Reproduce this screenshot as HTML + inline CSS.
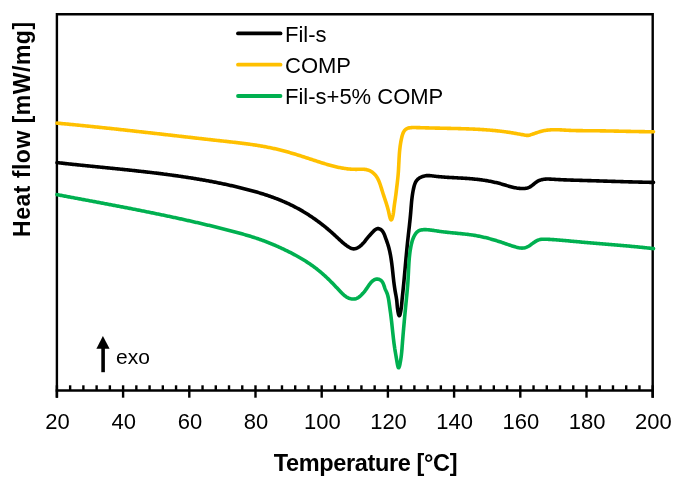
<!DOCTYPE html>
<html><head><meta charset="utf-8"><style>
html,body{margin:0;padding:0;background:#fff;}
body{width:680px;height:487px;overflow:hidden;}
svg{display:block;will-change:transform;}
text{font-family:"Liberation Sans", sans-serif;}
</style></head><body>
<svg width="680" height="487" viewBox="0 0 680 487">
<rect width="680" height="487" fill="#fff"/>
<g stroke="#000" stroke-width="2.4" fill="none" stroke-linecap="butt">
<path d="M56.90,397.70 V14.30 H652.70 V397.70"/>
<line x1="55.70" y1="390.50" x2="653.90" y2="390.50"/>
<line x1="56.90" y1="385.30" x2="56.90" y2="397.70"/>
<line x1="70.14" y1="385.30" x2="70.14" y2="390.50"/>
<line x1="83.38" y1="385.30" x2="83.38" y2="390.50"/>
<line x1="96.62" y1="385.30" x2="96.62" y2="390.50"/>
<line x1="109.86" y1="385.30" x2="109.86" y2="390.50"/>
<line x1="123.10" y1="385.30" x2="123.10" y2="397.70"/>
<line x1="136.34" y1="385.30" x2="136.34" y2="390.50"/>
<line x1="149.58" y1="385.30" x2="149.58" y2="390.50"/>
<line x1="162.82" y1="385.30" x2="162.82" y2="390.50"/>
<line x1="176.06" y1="385.30" x2="176.06" y2="390.50"/>
<line x1="189.30" y1="385.30" x2="189.30" y2="397.70"/>
<line x1="202.54" y1="385.30" x2="202.54" y2="390.50"/>
<line x1="215.78" y1="385.30" x2="215.78" y2="390.50"/>
<line x1="229.02" y1="385.30" x2="229.02" y2="390.50"/>
<line x1="242.26" y1="385.30" x2="242.26" y2="390.50"/>
<line x1="255.50" y1="385.30" x2="255.50" y2="397.70"/>
<line x1="268.74" y1="385.30" x2="268.74" y2="390.50"/>
<line x1="281.98" y1="385.30" x2="281.98" y2="390.50"/>
<line x1="295.22" y1="385.30" x2="295.22" y2="390.50"/>
<line x1="308.46" y1="385.30" x2="308.46" y2="390.50"/>
<line x1="321.70" y1="385.30" x2="321.70" y2="397.70"/>
<line x1="334.94" y1="385.30" x2="334.94" y2="390.50"/>
<line x1="348.18" y1="385.30" x2="348.18" y2="390.50"/>
<line x1="361.42" y1="385.30" x2="361.42" y2="390.50"/>
<line x1="374.66" y1="385.30" x2="374.66" y2="390.50"/>
<line x1="387.90" y1="385.30" x2="387.90" y2="397.70"/>
<line x1="401.14" y1="385.30" x2="401.14" y2="390.50"/>
<line x1="414.38" y1="385.30" x2="414.38" y2="390.50"/>
<line x1="427.62" y1="385.30" x2="427.62" y2="390.50"/>
<line x1="440.86" y1="385.30" x2="440.86" y2="390.50"/>
<line x1="454.10" y1="385.30" x2="454.10" y2="397.70"/>
<line x1="467.34" y1="385.30" x2="467.34" y2="390.50"/>
<line x1="480.58" y1="385.30" x2="480.58" y2="390.50"/>
<line x1="493.82" y1="385.30" x2="493.82" y2="390.50"/>
<line x1="507.06" y1="385.30" x2="507.06" y2="390.50"/>
<line x1="520.30" y1="385.30" x2="520.30" y2="397.70"/>
<line x1="533.54" y1="385.30" x2="533.54" y2="390.50"/>
<line x1="546.78" y1="385.30" x2="546.78" y2="390.50"/>
<line x1="560.02" y1="385.30" x2="560.02" y2="390.50"/>
<line x1="573.26" y1="385.30" x2="573.26" y2="390.50"/>
<line x1="586.50" y1="385.30" x2="586.50" y2="397.70"/>
<line x1="599.74" y1="385.30" x2="599.74" y2="390.50"/>
<line x1="612.98" y1="385.30" x2="612.98" y2="390.50"/>
<line x1="626.22" y1="385.30" x2="626.22" y2="390.50"/>
<line x1="639.46" y1="385.30" x2="639.46" y2="390.50"/>
<line x1="652.70" y1="385.30" x2="652.70" y2="397.70"/>
</g>
<g fill="none" stroke-width="3.6" stroke-linejoin="round" stroke-linecap="round">
<path stroke="#FFC000" d="M57.00,123.14 L57.99,123.23 L58.99,123.32 L59.99,123.41 L60.98,123.50 L61.98,123.60 L62.98,123.69 L63.97,123.78 L64.97,123.88 L65.97,123.97 L66.96,124.06 L67.96,124.16 L68.95,124.25 L69.95,124.35 L70.95,124.45 L71.94,124.54 L72.94,124.64 L73.93,124.73 L74.93,124.83 L75.93,124.93 L76.92,125.03 L77.92,125.13 L78.91,125.22 L79.91,125.32 L80.90,125.42 L81.90,125.52 L82.89,125.62 L83.89,125.72 L84.89,125.82 L85.88,125.92 L86.88,126.02 L87.87,126.12 L88.87,126.22 L89.86,126.32 L90.86,126.43 L91.85,126.53 L92.84,126.63 L93.84,126.73 L94.83,126.84 L95.83,126.94 L96.82,127.04 L97.82,127.15 L98.81,127.25 L99.81,127.35 L100.80,127.46 L101.80,127.56 L102.79,127.67 L103.78,127.77 L104.78,127.88 L105.77,127.98 L106.77,128.09 L107.76,128.19 L108.76,128.30 L109.75,128.41 L110.74,128.51 L111.74,128.62 L112.73,128.73 L113.73,128.83 L114.72,128.94 L115.71,129.05 L116.71,129.16 L117.70,129.26 L118.69,129.37 L119.69,129.48 L120.68,129.59 L121.68,129.70 L122.67,129.81 L123.66,129.91 L124.66,130.02 L125.65,130.13 L126.64,130.24 L127.64,130.35 L128.63,130.46 L129.62,130.57 L130.62,130.68 L131.61,130.79 L132.61,130.90 L133.60,131.01 L134.59,131.12 L135.59,131.23 L136.58,131.34 L137.57,131.45 L138.57,131.56 L139.56,131.68 L140.55,131.79 L141.55,131.90 L142.54,132.01 L143.53,132.12 L144.53,132.23 L145.52,132.34 L146.51,132.46 L147.51,132.57 L148.50,132.68 L149.49,132.79 L150.49,132.90 L151.48,133.02 L152.47,133.13 L153.47,133.24 L154.46,133.35 L155.45,133.46 L156.45,133.58 L157.44,133.69 L158.43,133.80 L159.43,133.91 L160.42,134.03 L161.41,134.14 L162.41,134.25 L163.40,134.37 L164.39,134.48 L165.39,134.59 L166.38,134.70 L167.37,134.82 L168.37,134.93 L169.36,135.04 L170.35,135.16 L171.35,135.27 L172.34,135.38 L173.33,135.49 L174.33,135.61 L175.32,135.72 L176.31,135.83 L177.31,135.95 L178.30,136.06 L179.29,136.17 L180.29,136.28 L181.28,136.40 L182.28,136.51 L183.27,136.62 L184.26,136.74 L185.26,136.85 L186.25,136.96 L187.24,137.07 L188.24,137.19 L189.23,137.30 L190.23,137.41 L191.22,137.52 L192.21,137.64 L193.21,137.75 L194.20,137.86 L195.19,137.97 L196.19,138.09 L197.18,138.20 L198.18,138.31 L199.17,138.42 L200.17,138.53 L201.16,138.65 L202.15,138.76 L203.15,138.87 L204.14,138.98 L205.14,139.09 L206.13,139.20 L207.13,139.31 L208.12,139.42 L209.11,139.54 L210.11,139.65 L211.10,139.76 L212.10,139.87 L213.09,139.98 L214.09,140.09 L215.08,140.20 L216.08,140.31 L217.07,140.42 L218.07,140.53 L219.06,140.64 L220.06,140.75 L221.05,140.86 L222.05,140.97 L223.04,141.08 L224.04,141.18 L225.03,141.29 L226.03,141.40 L227.02,141.51 L228.02,141.62 L229.01,141.73 L230.01,141.84 L231.00,141.96 L232.00,142.07 L232.99,142.18 L233.99,142.29 L234.98,142.41 L235.98,142.52 L236.97,142.64 L237.97,142.76 L238.96,142.88 L239.95,143.00 L240.95,143.12 L241.94,143.24 L242.93,143.36 L243.92,143.49 L244.91,143.62 L245.91,143.75 L246.90,143.88 L247.89,144.01 L248.88,144.14 L249.87,144.28 L250.86,144.42 L251.85,144.56 L252.84,144.71 L253.82,144.85 L254.81,145.00 L255.80,145.15 L256.78,145.31 L257.77,145.46 L258.76,145.62 L259.74,145.78 L260.73,145.95 L261.71,146.12 L262.69,146.29 L263.67,146.46 L264.66,146.64 L265.64,146.82 L266.62,147.01 L267.60,147.19 L268.58,147.39 L269.55,147.58 L270.53,147.78 L271.51,147.98 L272.48,148.19 L273.46,148.40 L274.43,148.62 L275.40,148.83 L276.38,149.06 L277.35,149.29 L278.32,149.52 L279.29,149.75 L280.26,149.99 L281.22,150.24 L282.19,150.49 L283.16,150.74 L284.12,151.00 L285.09,151.26 L286.05,151.53 L287.01,151.79 L287.98,152.07 L288.94,152.34 L289.90,152.62 L290.86,152.90 L291.82,153.18 L292.78,153.47 L293.74,153.76 L294.69,154.05 L295.65,154.34 L296.61,154.64 L297.57,154.94 L298.52,155.24 L299.48,155.54 L300.43,155.84 L301.39,156.15 L302.34,156.45 L303.30,156.76 L304.25,157.07 L305.21,157.38 L306.16,157.69 L307.11,158.00 L308.07,158.31 L309.02,158.62 L309.98,158.94 L310.93,159.25 L311.88,159.56 L312.84,159.87 L313.79,160.19 L314.74,160.50 L315.70,160.81 L316.65,161.12 L317.60,161.43 L318.56,161.74 L319.51,162.05 L320.46,162.36 L321.42,162.66 L322.37,162.96 L323.33,163.26 L324.29,163.56 L325.24,163.85 L326.20,164.14 L327.16,164.43 L328.12,164.71 L329.08,164.98 L330.04,165.25 L331.00,165.52 L331.97,165.78 L332.93,166.03 L333.90,166.27 L334.86,166.51 L335.83,166.75 L336.80,166.97 L337.77,167.19 L338.75,167.40 L339.72,167.59 L340.70,167.79 L341.68,167.97 L342.66,168.14 L343.64,168.30 L344.62,168.45 L345.61,168.59 L346.60,168.72 L347.59,168.84 L348.58,168.95 L349.57,169.04 L350.57,169.12 L351.57,169.19 L352.57,169.25 L353.58,169.29 L354.58,169.32 L355.59,169.33 L356.61,169.33 L357.62,169.32 L358.64,169.29 L359.66,169.26 L360.67,169.24 L361.69,169.22 L362.69,169.23 L363.69,169.27 L364.69,169.34 L365.66,169.46 L366.63,169.64 L367.58,169.88 L368.52,170.18 L369.43,170.55 L370.33,170.99 L371.19,171.49 L372.03,172.04 L372.83,172.64 L373.59,173.29 L374.31,173.97 L374.99,174.69 L375.63,175.44 L376.22,176.23 L376.77,177.04 L377.29,177.87 L377.77,178.73 L378.22,179.61 L378.65,180.51 L379.05,181.42 L379.42,182.36 L379.78,183.30 L380.12,184.26 L380.45,185.22 L380.76,186.19 L381.07,187.17 L381.37,188.15 L381.66,189.13 L381.96,190.11 L382.26,191.08 L382.56,192.06 L382.87,193.02 L383.18,193.98 L383.50,194.94 L383.81,195.89 L384.13,196.84 L384.44,197.78 L384.76,198.72 L385.07,199.65 L385.38,200.58 L385.68,201.51 L385.99,202.44 L386.28,203.36 L386.58,204.27 L386.86,205.19 L387.14,206.10 L387.41,207.02 L387.67,207.95 L387.93,208.90 L388.18,209.88 L388.43,210.91 L388.67,211.97 L388.91,213.09 L389.15,214.22 L389.41,215.36 L389.68,216.49 L389.99,217.60 L390.32,218.63 L390.69,219.47 L391.06,219.92 L391.45,219.84 L391.83,219.26 L392.20,218.32 L392.53,217.18 L392.82,216.01 L393.07,214.87 L393.27,213.76 L393.44,212.69 L393.58,211.65 L393.71,210.62 L393.82,209.62 L393.93,208.63 L394.03,207.64 L394.15,206.66 L394.27,205.68 L394.41,204.70 L394.55,203.72 L394.70,202.74 L394.85,201.76 L395.00,200.78 L395.15,199.80 L395.30,198.81 L395.44,197.83 L395.57,196.85 L395.70,195.87 L395.83,194.89 L395.95,193.91 L396.07,192.92 L396.19,191.93 L396.31,190.94 L396.43,189.95 L396.55,188.96 L396.67,187.96 L396.79,186.95 L396.91,185.95 L397.03,184.95 L397.16,183.94 L397.28,182.93 L397.39,181.92 L397.51,180.91 L397.62,179.91 L397.73,178.90 L397.84,177.89 L397.94,176.89 L398.03,175.88 L398.12,174.88 L398.21,173.88 L398.28,172.88 L398.36,171.89 L398.42,170.90 L398.49,169.91 L398.55,168.92 L398.60,167.93 L398.65,166.95 L398.70,165.97 L398.75,164.98 L398.80,164.00 L398.85,163.02 L398.90,162.04 L398.95,161.06 L398.99,160.08 L399.05,159.10 L399.10,158.12 L399.16,157.13 L399.22,156.15 L399.28,155.17 L399.35,154.18 L399.43,153.19 L399.51,152.20 L399.60,151.21 L399.69,150.22 L399.79,149.22 L399.91,148.22 L400.03,147.22 L400.15,146.21 L400.29,145.21 L400.44,144.19 L400.60,143.18 L400.78,142.16 L400.96,141.13 L401.16,140.10 L401.37,139.07 L401.60,138.03 L401.84,136.99 L402.11,135.96 L402.40,134.95 L402.73,133.97 L403.11,133.03 L403.53,132.13 L404.01,131.30 L404.55,130.54 L405.16,129.86 L405.84,129.26 L406.61,128.77 L407.45,128.38 L408.36,128.08 L409.33,127.86 L410.34,127.71 L411.39,127.61 L412.46,127.56 L413.54,127.54 L414.62,127.54 L415.69,127.56 L416.74,127.58 L417.78,127.61 L418.80,127.63 L419.80,127.66 L420.79,127.68 L421.78,127.71 L422.75,127.74 L423.73,127.77 L424.70,127.80 L425.66,127.83 L426.64,127.85 L427.61,127.88 L428.59,127.91 L429.57,127.93 L430.55,127.96 L431.53,127.98 L432.51,128.01 L433.50,128.03 L434.49,128.05 L435.48,128.08 L436.47,128.10 L437.47,128.12 L438.46,128.14 L439.46,128.16 L440.46,128.19 L441.46,128.21 L442.46,128.23 L443.46,128.25 L444.47,128.27 L445.47,128.29 L446.47,128.32 L447.48,128.34 L448.48,128.36 L449.49,128.38 L450.50,128.40 L451.50,128.43 L452.51,128.45 L453.52,128.47 L454.52,128.50 L455.53,128.52 L456.54,128.55 L457.54,128.57 L458.55,128.60 L459.55,128.62 L460.56,128.65 L461.56,128.68 L462.57,128.71 L463.57,128.74 L464.57,128.77 L465.58,128.80 L466.58,128.83 L467.58,128.87 L468.58,128.90 L469.58,128.94 L470.58,128.98 L471.58,129.02 L472.58,129.06 L473.58,129.10 L474.58,129.15 L475.58,129.20 L476.58,129.24 L477.58,129.29 L478.58,129.35 L479.57,129.40 L480.57,129.46 L481.57,129.52 L482.56,129.58 L483.56,129.65 L484.56,129.71 L485.55,129.78 L486.55,129.85 L487.54,129.93 L488.54,130.00 L489.53,130.08 L490.52,130.17 L491.52,130.25 L492.51,130.34 L493.50,130.44 L494.50,130.53 L495.49,130.63 L496.48,130.73 L497.47,130.84 L498.46,130.95 L499.46,131.06 L500.45,131.18 L501.44,131.30 L502.43,131.42 L503.42,131.55 L504.41,131.68 L505.40,131.82 L506.39,131.96 L507.38,132.10 L508.37,132.25 L509.36,132.40 L510.34,132.56 L511.33,132.72 L512.32,132.88 L513.31,133.04 L514.30,133.21 L515.29,133.38 L516.28,133.55 L517.26,133.72 L518.25,133.90 L519.24,134.08 L520.23,134.26 L521.22,134.44 L522.21,134.62 L523.20,134.81 L524.19,134.99 L525.18,135.17 L526.16,135.33 L527.14,135.40 L528.12,135.36 L529.08,135.20 L530.04,134.94 L530.99,134.65 L531.95,134.34 L532.90,134.02 L533.85,133.70 L534.80,133.37 L535.75,133.05 L536.71,132.73 L537.66,132.41 L538.62,132.10 L539.57,131.81 L540.53,131.53 L541.50,131.26 L542.46,131.01 L543.43,130.79 L544.40,130.59 L545.37,130.41 L546.35,130.25 L547.33,130.12 L548.32,130.01 L549.31,129.92 L550.30,129.85 L551.29,129.79 L552.28,129.75 L553.28,129.72 L554.28,129.71 L555.28,129.71 L556.28,129.73 L557.29,129.75 L558.29,129.78 L559.30,129.82 L560.30,129.86 L561.31,129.91 L562.32,129.97 L563.33,130.02 L564.33,130.08 L565.34,130.14 L566.35,130.20 L567.35,130.26 L568.36,130.31 L569.36,130.36 L570.37,130.41 L571.37,130.45 L572.37,130.48 L573.38,130.51 L574.38,130.54 L575.38,130.57 L576.38,130.59 L577.37,130.61 L578.37,130.62 L579.37,130.64 L580.37,130.65 L581.37,130.66 L582.36,130.67 L583.36,130.68 L584.36,130.68 L585.35,130.69 L586.35,130.69 L587.35,130.70 L588.34,130.71 L589.34,130.71 L590.34,130.72 L591.33,130.73 L592.33,130.73 L593.33,130.74 L594.33,130.75 L595.33,130.77 L596.32,130.78 L597.32,130.79 L598.32,130.80 L599.32,130.82 L600.32,130.83 L601.32,130.85 L602.32,130.86 L603.32,130.88 L604.32,130.89 L605.32,130.91 L606.32,130.93 L607.32,130.95 L608.32,130.96 L609.32,130.98 L610.32,131.00 L611.32,131.02 L612.32,131.04 L613.32,131.06 L614.32,131.08 L615.33,131.10 L616.33,131.12 L617.33,131.14 L618.33,131.16 L619.33,131.19 L620.33,131.21 L621.33,131.23 L622.33,131.25 L623.34,131.27 L624.34,131.29 L625.34,131.31 L626.34,131.33 L627.34,131.36 L628.34,131.38 L629.34,131.40 L630.34,131.42 L631.34,131.44 L632.34,131.46 L633.34,131.48 L634.35,131.50 L635.35,131.52 L636.35,131.54 L637.35,131.56 L638.35,131.57 L639.35,131.59 L640.35,131.61 L641.35,131.63 L642.35,131.64 L643.34,131.66 L644.34,131.67 L645.34,131.69 L646.34,131.70 L647.34,131.71 L648.34,131.73 L649.34,131.74 L650.33,131.75 L651.33,131.76 L652.33,131.77 L653.33,131.78 L653.50,131.78"/>
<path stroke="#000000" d="M57.02,162.61 L58.01,162.72 L59.00,162.83 L59.99,162.94 L60.99,163.05 L61.98,163.16 L62.97,163.27 L63.97,163.38 L64.96,163.49 L65.95,163.60 L66.95,163.71 L67.94,163.81 L68.93,163.92 L69.93,164.03 L70.92,164.13 L71.91,164.24 L72.91,164.34 L73.90,164.45 L74.90,164.55 L75.89,164.65 L76.88,164.76 L77.88,164.86 L78.87,164.96 L79.87,165.07 L80.86,165.17 L81.86,165.27 L82.85,165.37 L83.85,165.47 L84.84,165.57 L85.84,165.68 L86.83,165.78 L87.83,165.88 L88.82,165.98 L89.82,166.08 L90.81,166.18 L91.81,166.28 L92.80,166.38 L93.80,166.48 L94.79,166.58 L95.79,166.68 L96.78,166.78 L97.78,166.88 L98.77,166.98 L99.77,167.08 L100.76,167.17 L101.76,167.27 L102.75,167.37 L103.75,167.47 L104.75,167.57 L105.74,167.67 L106.74,167.77 L107.73,167.87 L108.73,167.97 L109.72,168.07 L110.72,168.17 L111.71,168.27 L112.71,168.37 L113.70,168.47 L114.70,168.58 L115.69,168.68 L116.69,168.78 L117.69,168.88 L118.68,168.98 L119.68,169.08 L120.67,169.18 L121.67,169.29 L122.66,169.39 L123.66,169.49 L124.65,169.60 L125.65,169.70 L126.64,169.80 L127.64,169.91 L128.63,170.01 L129.63,170.12 L130.62,170.23 L131.62,170.33 L132.61,170.44 L133.61,170.54 L134.60,170.65 L135.59,170.76 L136.59,170.87 L137.58,170.98 L138.58,171.09 L139.57,171.20 L140.57,171.31 L141.56,171.42 L142.55,171.53 L143.55,171.64 L144.54,171.75 L145.54,171.87 L146.53,171.98 L147.52,172.10 L148.52,172.21 L149.51,172.33 L150.50,172.44 L151.50,172.56 L152.49,172.68 L153.48,172.80 L154.47,172.92 L155.47,173.04 L156.46,173.16 L157.45,173.28 L158.44,173.40 L159.44,173.53 L160.43,173.65 L161.42,173.78 L162.41,173.90 L163.40,174.03 L164.40,174.16 L165.39,174.29 L166.38,174.41 L167.37,174.55 L168.36,174.68 L169.35,174.81 L170.34,174.94 L171.33,175.08 L172.32,175.21 L173.31,175.35 L174.30,175.48 L175.29,175.62 L176.28,175.76 L177.27,175.90 L178.26,176.04 L179.25,176.18 L180.24,176.33 L181.23,176.47 L182.22,176.62 L183.20,176.77 L184.19,176.91 L185.18,177.06 L186.17,177.21 L187.16,177.36 L188.14,177.52 L189.13,177.67 L190.12,177.83 L191.10,177.98 L192.09,178.14 L193.08,178.30 L194.06,178.46 L195.05,178.62 L196.04,178.78 L197.02,178.95 L198.01,179.11 L198.99,179.28 L199.98,179.45 L200.96,179.62 L201.95,179.79 L202.93,179.96 L203.91,180.13 L204.90,180.31 L205.88,180.48 L206.86,180.66 L207.85,180.84 L208.83,181.02 L209.81,181.21 L210.79,181.39 L211.78,181.58 L212.76,181.76 L213.74,181.95 L214.72,182.14 L215.70,182.33 L216.68,182.53 L217.66,182.72 L218.64,182.92 L219.62,183.12 L220.60,183.32 L221.58,183.52 L222.56,183.72 L223.54,183.93 L224.52,184.13 L225.50,184.34 L226.47,184.55 L227.45,184.76 L228.43,184.98 L229.41,185.19 L230.38,185.41 L231.36,185.63 L232.33,185.85 L233.31,186.07 L234.29,186.30 L235.26,186.52 L236.24,186.75 L237.21,186.98 L238.18,187.21 L239.16,187.45 L240.13,187.68 L241.10,187.92 L242.08,188.16 L243.05,188.40 L244.02,188.65 L244.99,188.89 L245.96,189.14 L246.93,189.39 L247.90,189.65 L248.87,189.90 L249.84,190.16 L250.81,190.42 L251.78,190.68 L252.74,190.95 L253.71,191.22 L254.67,191.49 L255.63,191.77 L256.60,192.04 L257.56,192.33 L258.52,192.61 L259.48,192.90 L260.44,193.19 L261.39,193.48 L262.35,193.78 L263.30,194.08 L264.26,194.38 L265.21,194.69 L266.16,195.00 L267.11,195.32 L268.05,195.64 L269.00,195.96 L269.94,196.29 L270.89,196.62 L271.83,196.95 L272.77,197.29 L273.71,197.63 L274.64,197.98 L275.58,198.33 L276.51,198.69 L277.44,199.05 L278.37,199.41 L279.30,199.78 L280.22,200.16 L281.14,200.53 L282.06,200.92 L282.98,201.31 L283.90,201.70 L284.81,202.10 L285.73,202.50 L286.64,202.91 L287.54,203.32 L288.45,203.74 L289.35,204.16 L290.25,204.59 L291.15,205.03 L292.05,205.47 L292.94,205.91 L293.83,206.36 L294.72,206.82 L295.60,207.28 L296.49,207.75 L297.37,208.22 L298.24,208.70 L299.12,209.19 L299.99,209.68 L300.86,210.17 L301.72,210.67 L302.59,211.17 L303.45,211.68 L304.31,212.20 L305.16,212.72 L306.01,213.24 L306.86,213.77 L307.71,214.31 L308.55,214.85 L309.39,215.39 L310.23,215.94 L311.07,216.50 L311.90,217.05 L312.73,217.62 L313.55,218.19 L314.37,218.76 L315.19,219.34 L316.01,219.92 L316.82,220.50 L317.63,221.09 L318.44,221.69 L319.24,222.29 L320.04,222.89 L320.84,223.50 L321.63,224.11 L322.42,224.72 L323.21,225.34 L323.99,225.97 L324.78,226.59 L325.55,227.22 L326.33,227.86 L327.10,228.50 L327.86,229.14 L328.63,229.79 L329.39,230.44 L330.14,231.09 L330.90,231.75 L331.65,232.41 L332.39,233.08 L333.14,233.74 L333.87,234.42 L334.61,235.09 L335.34,235.77 L336.07,236.45 L336.80,237.13 L337.52,237.82 L338.25,238.50 L338.98,239.18 L339.71,239.86 L340.44,240.53 L341.19,241.20 L341.93,241.86 L342.69,242.51 L343.46,243.15 L344.23,243.78 L345.02,244.40 L345.82,245.01 L346.64,245.61 L347.47,246.18 L348.31,246.75 L349.18,247.28 L350.06,247.78 L350.97,248.20 L351.89,248.54 L352.82,248.76 L353.78,248.84 L354.76,248.77 L355.74,248.54 L356.70,248.20 L357.64,247.77 L358.52,247.28 L359.37,246.73 L360.18,246.13 L360.95,245.48 L361.69,244.80 L362.40,244.08 L363.09,243.34 L363.76,242.58 L364.41,241.80 L365.05,241.02 L365.67,240.23 L366.29,239.45 L366.90,238.68 L367.52,237.93 L368.13,237.18 L368.75,236.44 L369.39,235.70 L370.03,234.96 L370.69,234.22 L371.37,233.47 L372.07,232.71 L372.80,231.94 L373.56,231.16 L374.35,230.41 L375.16,229.74 L376.01,229.19 L376.90,228.80 L377.81,228.61 L378.76,228.67 L379.71,228.98 L380.62,229.46 L381.42,230.05 L382.13,230.74 L382.74,231.51 L383.28,232.35 L383.76,233.24 L384.19,234.18 L384.58,235.14 L384.94,236.12 L385.29,237.10 L385.64,238.07 L385.99,239.03 L386.33,239.98 L386.67,240.93 L387.01,241.87 L387.33,242.81 L387.65,243.75 L387.95,244.69 L388.24,245.64 L388.51,246.59 L388.78,247.54 L389.03,248.50 L389.27,249.45 L389.50,250.42 L389.72,251.38 L389.93,252.35 L390.13,253.32 L390.32,254.29 L390.51,255.26 L390.68,256.24 L390.85,257.22 L391.01,258.20 L391.16,259.18 L391.31,260.16 L391.45,261.15 L391.59,262.14 L391.72,263.13 L391.85,264.12 L391.97,265.11 L392.09,266.10 L392.20,267.10 L392.32,268.09 L392.43,269.09 L392.54,270.09 L392.64,271.09 L392.75,272.09 L392.86,273.09 L392.96,274.09 L393.07,275.09 L393.17,276.09 L393.28,277.09 L393.39,278.09 L393.50,279.09 L393.62,280.10 L393.73,281.10 L393.85,282.10 L393.98,283.10 L394.10,284.10 L394.24,285.10 L394.37,286.10 L394.52,287.10 L394.67,288.10 L394.82,289.10 L394.98,290.09 L395.15,291.09 L395.33,292.08 L395.51,293.07 L395.69,294.06 L395.87,295.04 L396.05,296.02 L396.22,296.98 L396.38,297.94 L396.52,298.89 L396.66,299.82 L396.77,300.75 L396.87,301.66 L396.95,302.57 L397.03,303.48 L397.10,304.42 L397.18,305.39 L397.28,306.41 L397.39,307.48 L397.52,308.61 L397.69,309.83 L397.89,311.12 L398.12,312.43 L398.38,313.66 L398.67,314.68 L398.97,315.39 L399.27,315.69 L399.58,315.49 L399.88,314.86 L400.17,313.89 L400.44,312.70 L400.69,311.40 L400.92,310.10 L401.11,308.87 L401.27,307.73 L401.41,306.65 L401.53,305.63 L401.63,304.66 L401.72,303.73 L401.80,302.81 L401.88,301.90 L401.96,300.99 L402.05,300.07 L402.13,299.13 L402.23,298.17 L402.33,297.21 L402.43,296.23 L402.53,295.24 L402.63,294.24 L402.74,293.24 L402.85,292.23 L402.95,291.22 L403.06,290.21 L403.16,289.20 L403.26,288.20 L403.36,287.19 L403.46,286.19 L403.56,285.18 L403.66,284.18 L403.76,283.18 L403.85,282.17 L403.95,281.17 L404.04,280.17 L404.14,279.17 L404.23,278.17 L404.32,277.17 L404.41,276.18 L404.50,275.18 L404.59,274.18 L404.68,273.18 L404.77,272.19 L404.86,271.19 L404.95,270.20 L405.04,269.20 L405.13,268.21 L405.22,267.21 L405.31,266.22 L405.39,265.23 L405.48,264.23 L405.57,263.24 L405.66,262.25 L405.75,261.25 L405.84,260.26 L405.93,259.27 L406.02,258.28 L406.11,257.28 L406.20,256.29 L406.29,255.30 L406.38,254.31 L406.47,253.31 L406.56,252.32 L406.66,251.33 L406.75,250.34 L406.85,249.34 L406.94,248.35 L407.04,247.36 L407.14,246.36 L407.24,245.37 L407.34,244.38 L407.44,243.38 L407.54,242.39 L407.65,241.39 L407.75,240.40 L407.86,239.40 L407.97,238.40 L408.08,237.41 L408.19,236.41 L408.30,235.41 L408.41,234.41 L408.52,233.42 L408.63,232.42 L408.75,231.42 L408.86,230.42 L408.97,229.42 L409.08,228.43 L409.20,227.43 L409.31,226.43 L409.42,225.43 L409.53,224.44 L409.63,223.44 L409.74,222.44 L409.85,221.45 L409.95,220.45 L410.05,219.46 L410.15,218.46 L410.25,217.47 L410.34,216.47 L410.44,215.48 L410.53,214.49 L410.61,213.50 L410.70,212.51 L410.78,211.52 L410.86,210.53 L410.94,209.54 L411.02,208.56 L411.09,207.57 L411.17,206.58 L411.25,205.59 L411.34,204.61 L411.42,203.62 L411.51,202.64 L411.60,201.65 L411.70,200.66 L411.81,199.67 L411.92,198.69 L412.03,197.70 L412.16,196.71 L412.29,195.72 L412.43,194.73 L412.59,193.73 L412.75,192.74 L412.92,191.75 L413.11,190.75 L413.30,189.75 L413.52,188.75 L413.74,187.75 L413.98,186.75 L414.24,185.76 L414.54,184.77 L414.87,183.81 L415.25,182.88 L415.69,181.99 L416.20,181.14 L416.78,180.35 L417.44,179.61 L418.17,178.94 L418.96,178.33 L419.81,177.78 L420.70,177.29 L421.64,176.86 L422.60,176.50 L423.59,176.19 L424.59,175.95 L425.60,175.78 L426.61,175.66 L427.62,175.61 L428.62,175.60 L429.62,175.64 L430.62,175.71 L431.62,175.81 L432.62,175.93 L433.61,176.05 L434.61,176.18 L435.61,176.31 L436.60,176.42 L437.60,176.54 L438.60,176.64 L439.60,176.74 L440.59,176.83 L441.59,176.91 L442.59,177.00 L443.59,177.07 L444.58,177.14 L445.58,177.21 L446.58,177.28 L447.58,177.34 L448.58,177.40 L449.58,177.46 L450.57,177.51 L451.57,177.56 L452.57,177.62 L453.57,177.67 L454.57,177.72 L455.57,177.77 L456.57,177.82 L457.56,177.88 L458.56,177.93 L459.56,177.98 L460.56,178.04 L461.56,178.10 L462.55,178.16 L463.55,178.22 L464.55,178.29 L465.55,178.35 L466.54,178.42 L467.54,178.49 L468.54,178.57 L469.53,178.65 L470.53,178.73 L471.52,178.81 L472.52,178.90 L473.51,179.00 L474.50,179.09 L475.50,179.19 L476.49,179.30 L477.48,179.41 L478.47,179.52 L479.47,179.64 L480.46,179.77 L481.44,179.90 L482.43,180.03 L483.42,180.18 L484.41,180.32 L485.40,180.48 L486.38,180.64 L487.37,180.80 L488.35,180.97 L489.33,181.15 L490.32,181.34 L491.30,181.53 L492.28,181.73 L493.26,181.94 L494.23,182.15 L495.21,182.38 L496.19,182.61 L497.16,182.85 L498.14,183.09 L499.11,183.35 L500.08,183.61 L501.05,183.89 L502.02,184.17 L502.99,184.45 L503.96,184.74 L504.93,185.03 L505.89,185.32 L506.86,185.61 L507.83,185.89 L508.80,186.17 L509.76,186.45 L510.73,186.71 L511.70,186.96 L512.68,187.20 L513.65,187.43 L514.62,187.65 L515.60,187.84 L516.58,188.02 L517.56,188.17 L518.54,188.30 L519.52,188.41 L520.51,188.50 L521.50,188.55 L522.48,188.56 L523.46,188.54 L524.43,188.47 L525.40,188.35 L526.35,188.18 L527.28,187.96 L528.20,187.67 L529.10,187.31 L529.98,186.88 L530.83,186.37 L531.67,185.80 L532.48,185.18 L533.29,184.52 L534.09,183.85 L534.89,183.19 L535.70,182.54 L536.52,181.94 L537.37,181.40 L538.23,180.92 L539.11,180.51 L540.02,180.16 L540.94,179.87 L541.88,179.62 L542.83,179.43 L543.80,179.28 L544.78,179.17 L545.77,179.10 L546.77,179.06 L547.77,179.04 L548.79,179.05 L549.81,179.08 L550.83,179.12 L551.85,179.18 L552.88,179.24 L553.90,179.30 L554.93,179.36 L555.95,179.43 L556.96,179.48 L557.98,179.54 L558.99,179.59 L560.00,179.64 L561.01,179.69 L562.02,179.74 L563.03,179.78 L564.03,179.83 L565.03,179.87 L566.03,179.91 L567.03,179.95 L568.03,179.98 L569.03,180.02 L570.03,180.05 L571.02,180.09 L572.02,180.12 L573.01,180.15 L574.00,180.18 L575.00,180.21 L575.99,180.24 L576.98,180.27 L577.97,180.30 L578.97,180.32 L579.96,180.35 L580.95,180.38 L581.94,180.41 L582.94,180.44 L583.93,180.47 L584.93,180.49 L585.92,180.52 L586.92,180.55 L587.91,180.58 L588.91,180.61 L589.90,180.64 L590.90,180.67 L591.90,180.70 L592.90,180.73 L593.89,180.76 L594.89,180.79 L595.89,180.82 L596.89,180.86 L597.89,180.89 L598.89,180.92 L599.89,180.95 L600.89,180.98 L601.89,181.01 L602.89,181.04 L603.89,181.08 L604.90,181.11 L605.90,181.14 L606.90,181.17 L607.90,181.20 L608.90,181.23 L609.91,181.26 L610.91,181.30 L611.91,181.33 L612.91,181.36 L613.92,181.39 L614.92,181.42 L615.92,181.45 L616.92,181.48 L617.93,181.51 L618.93,181.54 L619.93,181.57 L620.93,181.60 L621.94,181.63 L622.94,181.66 L623.94,181.69 L624.94,181.72 L625.95,181.75 L626.95,181.78 L627.95,181.81 L628.95,181.84 L629.95,181.86 L630.95,181.89 L631.96,181.92 L632.96,181.94 L633.96,181.97 L634.96,182.00 L635.96,182.02 L636.96,182.05 L637.96,182.07 L638.95,182.10 L639.95,182.12 L640.95,182.14 L641.95,182.17 L642.95,182.19 L643.94,182.21 L644.94,182.23 L645.94,182.25 L646.93,182.27 L647.93,182.29 L648.92,182.31 L649.92,182.33 L650.91,182.35 L651.90,182.37 L652.90,182.38 L653.48,182.39"/>
<path stroke="#00B050" d="M56.99,194.65 L57.97,194.83 L58.96,195.02 L59.94,195.20 L60.92,195.39 L61.90,195.57 L62.89,195.75 L63.87,195.94 L64.85,196.12 L65.84,196.31 L66.82,196.49 L67.80,196.67 L68.78,196.86 L69.77,197.04 L70.75,197.23 L71.73,197.41 L72.72,197.59 L73.70,197.78 L74.68,197.96 L75.66,198.15 L76.65,198.33 L77.63,198.51 L78.61,198.70 L79.60,198.88 L80.58,199.06 L81.56,199.25 L82.55,199.43 L83.53,199.61 L84.51,199.80 L85.49,199.98 L86.48,200.17 L87.46,200.35 L88.44,200.53 L89.43,200.72 L90.41,200.90 L91.39,201.09 L92.38,201.27 L93.36,201.46 L94.34,201.64 L95.32,201.82 L96.31,202.01 L97.29,202.19 L98.27,202.38 L99.26,202.56 L100.24,202.75 L101.22,202.93 L102.20,203.12 L103.19,203.30 L104.17,203.49 L105.15,203.68 L106.13,203.86 L107.12,204.05 L108.10,204.23 L109.08,204.42 L110.06,204.61 L111.05,204.79 L112.03,204.98 L113.01,205.17 L113.99,205.36 L114.98,205.54 L115.96,205.73 L116.94,205.92 L117.92,206.11 L118.90,206.30 L119.89,206.49 L120.87,206.67 L121.85,206.86 L122.83,207.05 L123.81,207.24 L124.79,207.43 L125.78,207.62 L126.76,207.81 L127.74,208.00 L128.72,208.20 L129.70,208.39 L130.68,208.58 L131.67,208.77 L132.65,208.96 L133.63,209.16 L134.61,209.35 L135.59,209.54 L136.57,209.74 L137.55,209.93 L138.53,210.12 L139.51,210.32 L140.49,210.51 L141.47,210.71 L142.46,210.90 L143.44,211.10 L144.42,211.30 L145.40,211.49 L146.38,211.69 L147.36,211.89 L148.34,212.09 L149.32,212.28 L150.30,212.48 L151.28,212.68 L152.26,212.88 L153.24,213.08 L154.21,213.28 L155.19,213.48 L156.17,213.69 L157.15,213.89 L158.13,214.09 L159.11,214.29 L160.09,214.50 L161.07,214.70 L162.05,214.90 L163.03,215.11 L164.00,215.31 L164.98,215.52 L165.96,215.72 L166.94,215.93 L167.92,216.14 L168.89,216.35 L169.87,216.55 L170.85,216.76 L171.83,216.97 L172.80,217.18 L173.78,217.39 L174.76,217.60 L175.74,217.81 L176.71,218.03 L177.69,218.24 L178.67,218.45 L179.64,218.67 L180.62,218.88 L181.60,219.10 L182.57,219.31 L183.55,219.53 L184.52,219.74 L185.50,219.96 L186.48,220.18 L187.45,220.40 L188.43,220.62 L189.40,220.84 L190.38,221.06 L191.35,221.28 L192.33,221.50 L193.30,221.72 L194.28,221.94 L195.25,222.17 L196.22,222.39 L197.20,222.62 L198.17,222.84 L199.15,223.07 L200.12,223.30 L201.09,223.52 L202.07,223.75 L203.04,223.98 L204.01,224.21 L204.99,224.44 L205.96,224.67 L206.93,224.91 L207.90,225.14 L208.88,225.37 L209.85,225.61 L210.82,225.84 L211.79,226.08 L212.76,226.32 L213.73,226.55 L214.70,226.79 L215.68,227.03 L216.65,227.27 L217.62,227.51 L218.59,227.75 L219.56,227.99 L220.53,228.24 L221.50,228.48 L222.47,228.73 L223.44,228.97 L224.41,229.22 L225.38,229.46 L226.34,229.71 L227.31,229.96 L228.28,230.21 L229.25,230.46 L230.22,230.71 L231.19,230.97 L232.15,231.22 L233.12,231.47 L234.09,231.73 L235.06,231.98 L236.02,232.24 L236.99,232.50 L237.96,232.76 L238.92,233.02 L239.89,233.28 L240.85,233.55 L241.82,233.82 L242.78,234.09 L243.74,234.36 L244.70,234.63 L245.66,234.91 L246.62,235.19 L247.58,235.47 L248.54,235.75 L249.50,236.04 L250.46,236.33 L251.41,236.63 L252.37,236.92 L253.32,237.23 L254.27,237.53 L255.22,237.84 L256.17,238.15 L257.12,238.47 L258.06,238.79 L259.01,239.12 L259.95,239.45 L260.89,239.78 L261.83,240.12 L262.77,240.46 L263.71,240.81 L264.64,241.16 L265.58,241.51 L266.51,241.87 L267.44,242.23 L268.37,242.60 L269.30,242.97 L270.23,243.35 L271.15,243.72 L272.08,244.11 L273.00,244.49 L273.92,244.88 L274.84,245.27 L275.76,245.67 L276.67,246.07 L277.59,246.47 L278.50,246.88 L279.41,247.29 L280.32,247.70 L281.23,248.12 L282.14,248.54 L283.05,248.97 L283.95,249.39 L284.86,249.82 L285.76,250.26 L286.66,250.69 L287.56,251.14 L288.45,251.58 L289.35,252.03 L290.24,252.48 L291.13,252.93 L292.02,253.39 L292.91,253.86 L293.79,254.32 L294.67,254.79 L295.55,255.27 L296.43,255.75 L297.30,256.24 L298.18,256.72 L299.05,257.22 L299.91,257.72 L300.78,258.22 L301.64,258.73 L302.49,259.24 L303.35,259.76 L304.20,260.28 L305.05,260.81 L305.89,261.34 L306.73,261.88 L307.57,262.43 L308.40,262.98 L309.23,263.53 L310.06,264.09 L310.88,264.66 L311.70,265.23 L312.52,265.81 L313.33,266.40 L314.13,266.99 L314.94,267.59 L315.73,268.19 L316.53,268.80 L317.32,269.42 L318.10,270.04 L318.88,270.67 L319.66,271.31 L320.43,271.95 L321.19,272.60 L321.95,273.25 L322.71,273.91 L323.46,274.58 L324.21,275.25 L324.95,275.93 L325.69,276.61 L326.42,277.29 L327.15,277.98 L327.88,278.67 L328.60,279.36 L329.31,280.06 L330.02,280.76 L330.73,281.46 L331.43,282.17 L332.13,282.87 L332.82,283.58 L333.51,284.29 L334.19,285.00 L334.87,285.72 L335.54,286.43 L336.21,287.14 L336.89,287.86 L337.56,288.58 L338.23,289.31 L338.92,290.05 L339.61,290.79 L340.31,291.54 L341.02,292.28 L341.75,293.02 L342.49,293.74 L343.24,294.44 L344.01,295.12 L344.80,295.76 L345.60,296.36 L346.43,296.92 L347.28,297.43 L348.15,297.87 L349.04,298.26 L349.96,298.57 L350.91,298.81 L351.88,298.97 L352.87,299.04 L353.87,299.02 L354.86,298.90 L355.84,298.69 L356.78,298.37 L357.68,297.94 L358.53,297.42 L359.34,296.82 L360.11,296.17 L360.86,295.49 L361.58,294.79 L362.27,294.07 L362.95,293.33 L363.60,292.58 L364.23,291.82 L364.85,291.03 L365.45,290.23 L366.04,289.42 L366.62,288.60 L367.19,287.76 L367.75,286.91 L368.31,286.07 L368.89,285.23 L369.48,284.40 L370.10,283.60 L370.74,282.82 L371.42,282.07 L372.15,281.37 L372.92,280.71 L373.75,280.12 L374.63,279.63 L375.56,279.28 L376.54,279.10 L377.54,279.09 L378.54,279.25 L379.50,279.56 L380.39,280.00 L381.17,280.58 L381.84,281.28 L382.42,282.07 L382.92,282.93 L383.35,283.86 L383.74,284.83 L384.09,285.83 L384.43,286.84 L384.76,287.83 L385.11,288.80 L385.48,289.73 L385.87,290.61 L386.27,291.48 L386.66,292.34 L387.02,293.22 L387.34,294.13 L387.63,295.06 L387.89,296.02 L388.12,296.99 L388.33,297.97 L388.52,298.97 L388.69,299.98 L388.85,300.99 L389.00,302.00 L389.14,303.01 L389.28,304.01 L389.42,305.01 L389.56,306.00 L389.70,306.99 L389.84,307.97 L389.98,308.95 L390.11,309.92 L390.25,310.90 L390.38,311.87 L390.51,312.85 L390.65,313.82 L390.77,314.80 L390.90,315.78 L391.02,316.77 L391.15,317.76 L391.26,318.76 L391.38,319.76 L391.50,320.76 L391.61,321.77 L391.72,322.78 L391.83,323.79 L391.94,324.80 L392.05,325.82 L392.16,326.83 L392.27,327.85 L392.37,328.86 L392.48,329.87 L392.59,330.88 L392.69,331.89 L392.80,332.90 L392.91,333.91 L393.02,334.91 L393.13,335.90 L393.24,336.90 L393.35,337.88 L393.46,338.87 L393.58,339.84 L393.70,340.81 L393.82,341.78 L393.94,342.73 L394.06,343.68 L394.19,344.62 L394.32,345.56 L394.45,346.48 L394.59,347.39 L394.72,348.31 L394.87,349.22 L395.01,350.14 L395.17,351.07 L395.32,352.01 L395.49,352.98 L395.65,353.96 L395.83,354.98 L396.00,356.02 L396.19,357.10 L396.38,358.23 L396.58,359.40 L396.79,360.61 L397.00,361.89 L397.22,363.18 L397.45,364.44 L397.69,365.58 L397.94,366.55 L398.19,367.28 L398.45,367.70 L398.72,367.75 L398.99,367.42 L399.26,366.76 L399.54,365.85 L399.80,364.75 L400.06,363.53 L400.30,362.25 L400.52,360.97 L400.73,359.73 L400.91,358.55 L401.07,357.40 L401.22,356.29 L401.36,355.21 L401.48,354.16 L401.59,353.14 L401.69,352.14 L401.78,351.16 L401.87,350.20 L401.95,349.25 L402.02,348.31 L402.09,347.37 L402.16,346.43 L402.23,345.49 L402.30,344.55 L402.38,343.60 L402.45,342.65 L402.53,341.69 L402.60,340.73 L402.68,339.77 L402.76,338.80 L402.84,337.83 L402.92,336.86 L403.00,335.88 L403.08,334.90 L403.16,333.92 L403.25,332.94 L403.33,331.95 L403.41,330.96 L403.50,329.97 L403.59,328.98 L403.67,327.98 L403.76,326.98 L403.85,325.98 L403.94,324.98 L404.03,323.98 L404.12,322.98 L404.21,321.97 L404.30,320.96 L404.39,319.96 L404.49,318.95 L404.58,317.94 L404.67,316.93 L404.77,315.92 L404.86,314.91 L404.96,313.90 L405.05,312.90 L405.15,311.89 L405.24,310.88 L405.34,309.87 L405.44,308.86 L405.53,307.85 L405.63,306.85 L405.73,305.84 L405.83,304.84 L405.92,303.83 L406.02,302.83 L406.12,301.83 L406.22,300.83 L406.32,299.83 L406.41,298.84 L406.51,297.84 L406.61,296.85 L406.71,295.86 L406.80,294.87 L406.90,293.88 L406.99,292.89 L407.08,291.90 L407.17,290.92 L407.26,289.93 L407.35,288.94 L407.44,287.95 L407.52,286.97 L407.60,285.98 L407.68,284.99 L407.75,284.00 L407.83,283.01 L407.90,282.02 L407.96,281.03 L408.02,280.04 L408.08,279.05 L408.14,278.05 L408.19,277.05 L408.24,276.06 L408.29,275.06 L408.34,274.06 L408.39,273.06 L408.44,272.06 L408.48,271.06 L408.53,270.06 L408.58,269.06 L408.63,268.06 L408.68,267.06 L408.73,266.06 L408.79,265.05 L408.85,264.05 L408.91,263.05 L408.98,262.05 L409.05,261.05 L409.13,260.05 L409.21,259.05 L409.30,258.05 L409.40,257.05 L409.50,256.06 L409.61,255.06 L409.72,254.07 L409.85,253.07 L409.98,252.08 L410.12,251.09 L410.27,250.10 L410.43,249.11 L410.60,248.12 L410.78,247.14 L410.97,246.16 L411.18,245.17 L411.40,244.20 L411.63,243.22 L411.88,242.25 L412.15,241.29 L412.45,240.33 L412.77,239.38 L413.12,238.45 L413.51,237.52 L413.93,236.61 L414.39,235.71 L414.89,234.83 L415.43,233.96 L416.03,233.14 L416.68,232.37 L417.39,231.68 L418.18,231.10 L419.04,230.64 L419.96,230.29 L420.93,230.03 L421.93,229.85 L422.94,229.73 L423.96,229.67 L424.98,229.64 L426.01,229.66 L427.03,229.71 L428.05,229.78 L429.06,229.88 L430.07,229.99 L431.07,230.11 L432.07,230.24 L433.07,230.38 L434.05,230.52 L435.04,230.67 L436.03,230.82 L437.01,230.97 L437.99,231.12 L438.97,231.27 L439.95,231.41 L440.93,231.55 L441.92,231.68 L442.90,231.81 L443.89,231.93 L444.88,232.05 L445.87,232.16 L446.86,232.27 L447.85,232.38 L448.84,232.48 L449.83,232.58 L450.83,232.68 L451.82,232.78 L452.81,232.88 L453.81,232.97 L454.80,233.07 L455.80,233.16 L456.80,233.26 L457.79,233.35 L458.79,233.45 L459.78,233.54 L460.78,233.64 L461.78,233.74 L462.77,233.85 L463.77,233.95 L464.76,234.06 L465.76,234.17 L466.75,234.29 L467.75,234.41 L468.74,234.53 L469.73,234.66 L470.73,234.80 L471.72,234.94 L472.71,235.09 L473.70,235.24 L474.69,235.40 L475.67,235.57 L476.66,235.74 L477.64,235.92 L478.63,236.11 L479.61,236.31 L480.59,236.51 L481.57,236.72 L482.55,236.94 L483.52,237.16 L484.50,237.39 L485.47,237.62 L486.45,237.86 L487.42,238.11 L488.39,238.36 L489.36,238.62 L490.32,238.88 L491.29,239.15 L492.25,239.42 L493.21,239.70 L494.17,239.98 L495.13,240.27 L496.08,240.56 L497.04,240.86 L497.99,241.16 L498.94,241.46 L499.89,241.77 L500.84,242.08 L501.78,242.40 L502.72,242.72 L503.66,243.04 L504.60,243.37 L505.54,243.69 L506.48,244.02 L507.42,244.34 L508.36,244.67 L509.31,244.99 L510.25,245.31 L511.20,245.63 L512.16,245.94 L513.12,246.24 L514.08,246.54 L515.05,246.83 L516.03,247.11 L517.01,247.38 L518.00,247.62 L518.99,247.82 L519.98,247.98 L520.97,248.07 L521.96,248.10 L522.94,248.05 L523.92,247.92 L524.89,247.71 L525.84,247.44 L526.77,247.09 L527.68,246.69 L528.56,246.22 L529.41,245.69 L530.25,245.13 L531.07,244.54 L531.89,243.93 L532.71,243.32 L533.53,242.73 L534.36,242.15 L535.21,241.61 L536.07,241.10 L536.94,240.63 L537.83,240.22 L538.75,239.88 L539.68,239.60 L540.64,239.40 L541.63,239.28 L542.63,239.22 L543.63,239.19 L544.65,239.20 L545.66,239.22 L546.66,239.25 L547.67,239.29 L548.67,239.34 L549.67,239.39 L550.68,239.46 L551.67,239.53 L552.67,239.60 L553.67,239.67 L554.67,239.75 L555.66,239.83 L556.66,239.91 L557.66,239.99 L558.65,240.07 L559.65,240.15 L560.64,240.23 L561.64,240.31 L562.63,240.39 L563.63,240.48 L564.62,240.56 L565.62,240.65 L566.62,240.73 L567.61,240.82 L568.61,240.91 L569.60,241.00 L570.60,241.09 L571.59,241.18 L572.59,241.27 L573.59,241.36 L574.58,241.45 L575.58,241.54 L576.57,241.63 L577.57,241.72 L578.57,241.81 L579.56,241.91 L580.56,242.00 L581.55,242.09 L582.55,242.17 L583.55,242.26 L584.54,242.35 L585.54,242.44 L586.54,242.53 L587.53,242.61 L588.53,242.70 L589.52,242.79 L590.52,242.87 L591.52,242.96 L592.51,243.04 L593.51,243.12 L594.51,243.21 L595.50,243.29 L596.50,243.38 L597.50,243.46 L598.49,243.54 L599.49,243.62 L600.49,243.71 L601.48,243.79 L602.48,243.87 L603.48,243.95 L604.47,244.04 L605.47,244.12 L606.47,244.20 L607.46,244.28 L608.46,244.36 L609.46,244.45 L610.45,244.53 L611.45,244.61 L612.45,244.69 L613.44,244.78 L614.44,244.86 L615.43,244.94 L616.43,245.03 L617.43,245.11 L618.42,245.20 L619.42,245.28 L620.42,245.37 L621.41,245.45 L622.41,245.54 L623.40,245.62 L624.40,245.71 L625.40,245.80 L626.39,245.89 L627.39,245.98 L628.38,246.07 L629.38,246.16 L630.38,246.25 L631.37,246.34 L632.37,246.43 L633.36,246.52 L634.36,246.62 L635.35,246.71 L636.35,246.81 L637.34,246.90 L638.34,247.00 L639.33,247.10 L640.33,247.20 L641.33,247.30 L642.32,247.40 L643.31,247.50 L644.31,247.60 L645.30,247.71 L646.30,247.81 L647.29,247.92 L648.29,248.02 L649.28,248.13 L650.28,248.24 L651.27,248.35 L652.26,248.47 L653.26,248.58 L653.50,248.61"/>
</g>
<g stroke-width="3.8" stroke-linecap="round">
<line x1="238" y1="33.4" x2="280.5" y2="33.4" stroke="#000"/>
<line x1="238" y1="64.7" x2="280.5" y2="64.7" stroke="#FFC000"/>
<line x1="238" y1="96" x2="280.5" y2="96" stroke="#00B050"/>
</g>
<g font-size="22" fill="#000">
<text x="285" y="41.6">Fil-s</text>
<text x="285" y="72.9">COMP</text>
<text x="285" y="104.1">Fil-s+5% COMP</text>
</g>
<g font-size="22" fill="#000" text-anchor="middle">
<text x="57.50" y="429">20</text>
<text x="123.70" y="429">40</text>
<text x="189.90" y="429">60</text>
<text x="256.10" y="429">80</text>
<text x="322.30" y="429">100</text>
<text x="388.50" y="429">120</text>
<text x="454.70" y="429">140</text>
<text x="520.90" y="429">160</text>
<text x="587.10" y="429">180</text>
<text x="653.30" y="429">200</text>
</g>
<text x="365.5" y="470.8" font-size="23.5" font-weight="bold" text-anchor="middle" letter-spacing="-0.36">Temperature [°C]</text>
<text transform="translate(30,129.2) rotate(-90)" font-size="23" font-weight="bold" text-anchor="middle" letter-spacing="0.5">Heat flow [mW/mg]</text>
<!-- exo arrow -->
<line x1="103.1" y1="346" x2="103.1" y2="372.2" stroke="#000" stroke-width="3.6"/>
<path d="M102.9,336 L109.6,348.8 L96.4,348.8 Z" fill="#000"/>
<text x="116" y="364" font-size="21">exo</text>
</svg>
</body></html>
